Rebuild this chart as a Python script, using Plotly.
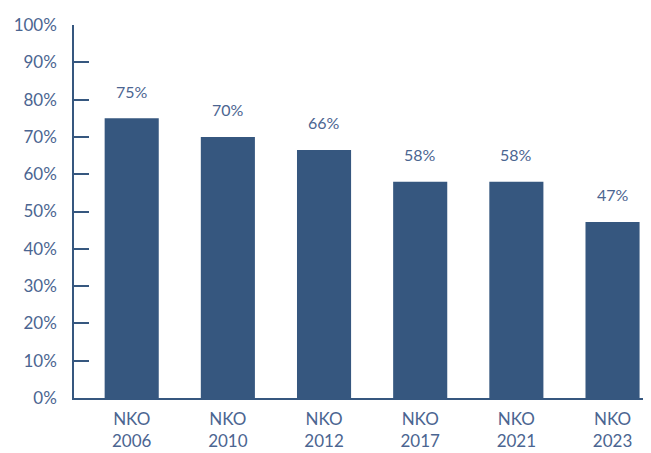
import plotly.graph_objects as go

# ── data ─────────────────────────────────────────────
categories = ["NKO<br>2006", "NKO<br>2010", "NKO<br>2012", "NKO<br>2017", "NKO<br>2021", "NKO<br>2023"]
values = [75, 70, 66.5, 58, 58, 47.2]
labels = ["75%", "70%", "66%", "58%", "58%", "47%"]
y_ticks = [0, 10, 20, 30, 40, 50, 60, 70, 80, 90, 100]
y_ticktext = [f"{v}%" for v in y_ticks]

BAR = "#36577f"
TEXT = "#4b6591"
FONT = "Lato"

fig = go.Figure(go.Bar(
    x=list(range(len(categories))), y=values,
    marker=dict(color=BAR, line=dict(width=0)),
    width=0.5625,
    hoverinfo="skip",
))

for i, (v, lab) in enumerate(zip(values, labels)):
    fig.add_annotation(x=i, y=v, text=lab, showarrow=False,
                       yshift=27, font=dict(family=FONT, size=16, color=TEXT))

# page body adds 8px margin, so figure is 8px smaller
fig.update_layout(
    width=643, height=445,
    margin=dict(l=66, r=0, t=17, b=55, autoexpand=False),
    paper_bgcolor="white", plot_bgcolor="white",
    font=dict(family=FONT, size=16, color=TEXT),
    showlegend=False,
    xaxis=dict(range=[-0.6, 5.4], tickvals=list(range(len(categories))),
               ticktext=categories,
               showline=True, linecolor=BAR, linewidth=1.5, automargin=False,
               ticks="", showgrid=False, zeroline=False, ticklabelstandoff=5,
               tickfont=dict(size=17, color=TEXT)),
    yaxis=dict(range=[0, 100], tickvals=y_ticks, ticktext=y_ticktext,
               showline=True, linecolor=BAR, linewidth=1.5, automargin=False,
               ticks="inside", ticklen=15, tickwidth=1.5, tickcolor=BAR,
               showgrid=False, zeroline=False, ticklabelstandoff=12,
               tickfont=dict(size=17, color=TEXT)),
)

fig.write_html("out.html")
